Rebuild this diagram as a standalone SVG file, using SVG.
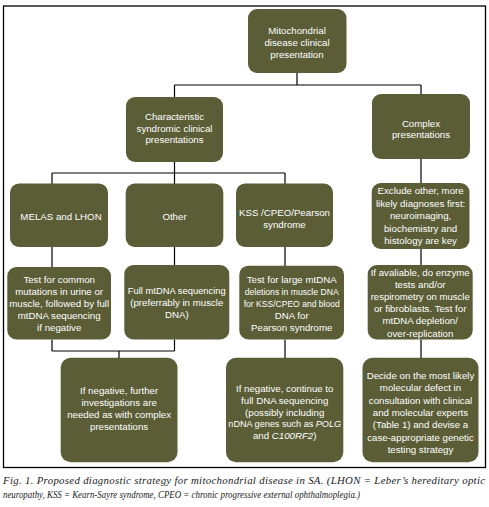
<svg xmlns="http://www.w3.org/2000/svg" width="489" height="507" viewBox="0 0 489 507">
<style>
.bg{fill:#ffffff}
.frame{fill:none;stroke:#000;stroke-width:1.3}
.box{fill:#5a5d36}
.t{font-family:"Liberation Sans",Arial,sans-serif;font-size:9.7px;fill:#ffffff;text-anchor:middle}
.c{fill:none;stroke:#000;stroke-width:1.2}
.cap{font-family:"Liberation Serif","Times New Roman",serif;font-style:italic;font-size:10.8px;fill:#222}
</style>
<rect class="bg" x="0" y="0" width="489" height="507"/>
<rect class="frame" x="3.5" y="6" width="482" height="461.5"/>
<g id="connectors">
<path class="c" d="M297 73V85M174.5 85H421M174.5 85V97M421 85V94"/>
<path class="c" d="M174.5 162V173M52 173H285M52 173V184M174.5 173V184M285 173V184"/>
<path class="c" d="M421 159V183"/>
<path class="c" d="M52 247V267M174.5 247V265M285 247V266M421 249V265"/>
<path class="c" d="M52 339.5V351M174.5 339.5V351M52 351H174.5M119 351V358M285 339.5V358M421 339.5V358"/>
</g>
<g id="n-top">
<rect class="box" x="248" y="9" width="98.5" height="64" rx="9"/>
<text class="t" x="297" y="33.5">Mitochondrial</text>
<text class="t" x="297" y="45.7">disease clinical</text>
<text class="t" x="297" y="57.8">presentation</text>
</g>
<g id="n-characteristic">
<rect class="box" x="126" y="97" width="97" height="65" rx="9"/>
<text class="t" x="174.5" y="119.5">Characteristic</text>
<text class="t" x="174.5" y="131.5">syndromic clinical</text>
<text class="t" x="174.5" y="143">presentations</text>
</g>
<g id="n-complex">
<rect class="box" x="372" y="94" width="98" height="65" rx="9"/>
<text class="t" x="421" y="126.5">Complex</text>
<text class="t" x="421" y="138">presentations</text>
</g>
<g id="n-melas">
<rect class="box" x="10" y="183.5" width="98" height="63.5" rx="9"/>
<text class="t" x="61" y="219.5">MELAS and LHON</text>
</g>
<g id="n-other">
<rect class="box" x="125.7" y="183.5" width="97.6" height="63.5" rx="9"/>
<text class="t" x="174.5" y="219.5">Other</text>
</g>
<g id="n-kss">
<rect class="box" x="236" y="183.5" width="97" height="63.5" rx="9"/>
<text class="t" x="284.5" y="215.5">KSS /CPEO/Pearson</text>
<text class="t" x="284.5" y="227.5">syndrome</text>
</g>
<g id="n-exclude">
<rect class="box" x="371.7" y="183" width="97.8" height="66" rx="9"/>
<text class="t" x="420.6" y="194">Exclude other, more</text>
<text class="t" x="420.6" y="206.5">likely diagnoses first:</text>
<text class="t" x="420.6" y="219">neuroimaging,</text>
<text class="t" x="420.6" y="231.5">biochemistry and</text>
<text class="t" x="420.6" y="244">histology are key</text>
</g>
<g id="n-testcommon">
<rect class="box" x="7.3" y="267" width="103.7" height="72.5" rx="9"/>
<text class="t" x="59.2" y="282.5">Test for common</text>
<text class="t" x="59.2" y="294.5">mutations in urine or</text>
<text class="t" x="59.2" y="306.5" textLength="100" lengthAdjust="spacingAndGlyphs">muscle, followed by full</text>
<text class="t" x="59.2" y="318.5">mtDNA sequencing</text>
<text class="t" x="59.2" y="330.5">if negative</text>
</g>
<g id="n-fullmtdna">
<rect class="box" x="124.3" y="265" width="105" height="74.5" rx="9"/>
<text class="t" x="176.8" y="293.5" textLength="98" lengthAdjust="spacingAndGlyphs">Full mtDNA sequencing</text>
<text class="t" x="176.8" y="305.5">(preferrably in muscle</text>
<text class="t" x="176.8" y="317.5">DNA)</text>
</g>
<g id="n-testlarge">
<rect class="box" x="239.3" y="265.7" width="104.7" height="73.8" rx="9"/>
<text class="t" x="291.7" y="282.5">Test for large mtDNA</text>
<text class="t" x="291.7" y="294.5" textLength="94" lengthAdjust="spacingAndGlyphs">deletions in muscle DNA</text>
<text class="t" x="291.7" y="306.5" textLength="96" lengthAdjust="spacingAndGlyphs">for KSS/CPEO and blood</text>
<text class="t" x="291.7" y="318.5">DNA for</text>
<text class="t" x="291.7" y="330.5">Pearson syndrome</text>
</g>
<g id="n-enzyme">
<rect class="box" x="367.7" y="265" width="105" height="74.5" rx="9"/>
<text class="t" x="420.2" y="276">If avaliable, do enzyme</text>
<text class="t" x="420.2" y="288">tests and/or</text>
<text class="t" x="420.2" y="300" textLength="99" lengthAdjust="spacingAndGlyphs">respirometry on muscle</text>
<text class="t" x="420.2" y="312">or fibroblasts. Test for</text>
<text class="t" x="420.2" y="324.3">mtDNA depletion/</text>
<text class="t" x="420.2" y="336.5">over-replication</text>
</g>
<g id="n-further">
<rect class="box" x="60.7" y="357.7" width="116.8" height="104.5" rx="10"/>
<text class="t" x="119.1" y="393.5">If negative, further</text>
<text class="t" x="119.1" y="405.8">investigations are</text>
<text class="t" x="119.1" y="418.1">needed as with complex</text>
<text class="t" x="119.1" y="430.4">presentations</text>
</g>
<g id="n-continue">
<rect class="box" x="226" y="357.7" width="117.3" height="104.5" rx="10"/>
<text class="t" x="284.7" y="392">If negative, continue to</text>
<text class="t" x="284.7" y="403.8">full DNA sequencing</text>
<text class="t" x="284.7" y="415.6">(possibly including</text>
<text class="t" x="284.7" y="427.4" style="font-size:9.1px">nDNA genes such as <tspan font-style="italic">POLG</tspan></text>
<text class="t" x="284.7" y="439.2">and <tspan font-style="italic">C100RF2</tspan>)</text>
</g>
<g id="n-decide">
<rect class="box" x="362.5" y="357.7" width="116" height="104.5" rx="10"/>
<text class="t" x="420.5" y="379">Decide on the most likely</text>
<text class="t" x="420.5" y="391.3">molecular defect in</text>
<text class="t" x="420.5" y="403.6">consultation with clinical</text>
<text class="t" x="420.5" y="415.9">and molecular experts</text>
<text class="t" x="420.5" y="428.2">(Table 1) and devise a</text>
<text class="t" x="420.5" y="440.5">case-appropriate genetic</text>
<text class="t" x="420.5" y="452.8">testing strategy</text>
</g>
<g id="caption">
<text class="cap" x="3" y="483.5" textLength="482" lengthAdjust="spacing">Fig. 1. Proposed diagnostic strategy for mitochondrial disease in SA. (LHON = Leber’s hereditary optic</text>
<text class="cap" x="3" y="497.5" textLength="357" lengthAdjust="spacingAndGlyphs">neuropathy, KSS = Kearn-Sayre syndrome, CPEO = chronic progressive external ophthalmoplegia.)</text>
</g>
</svg>
